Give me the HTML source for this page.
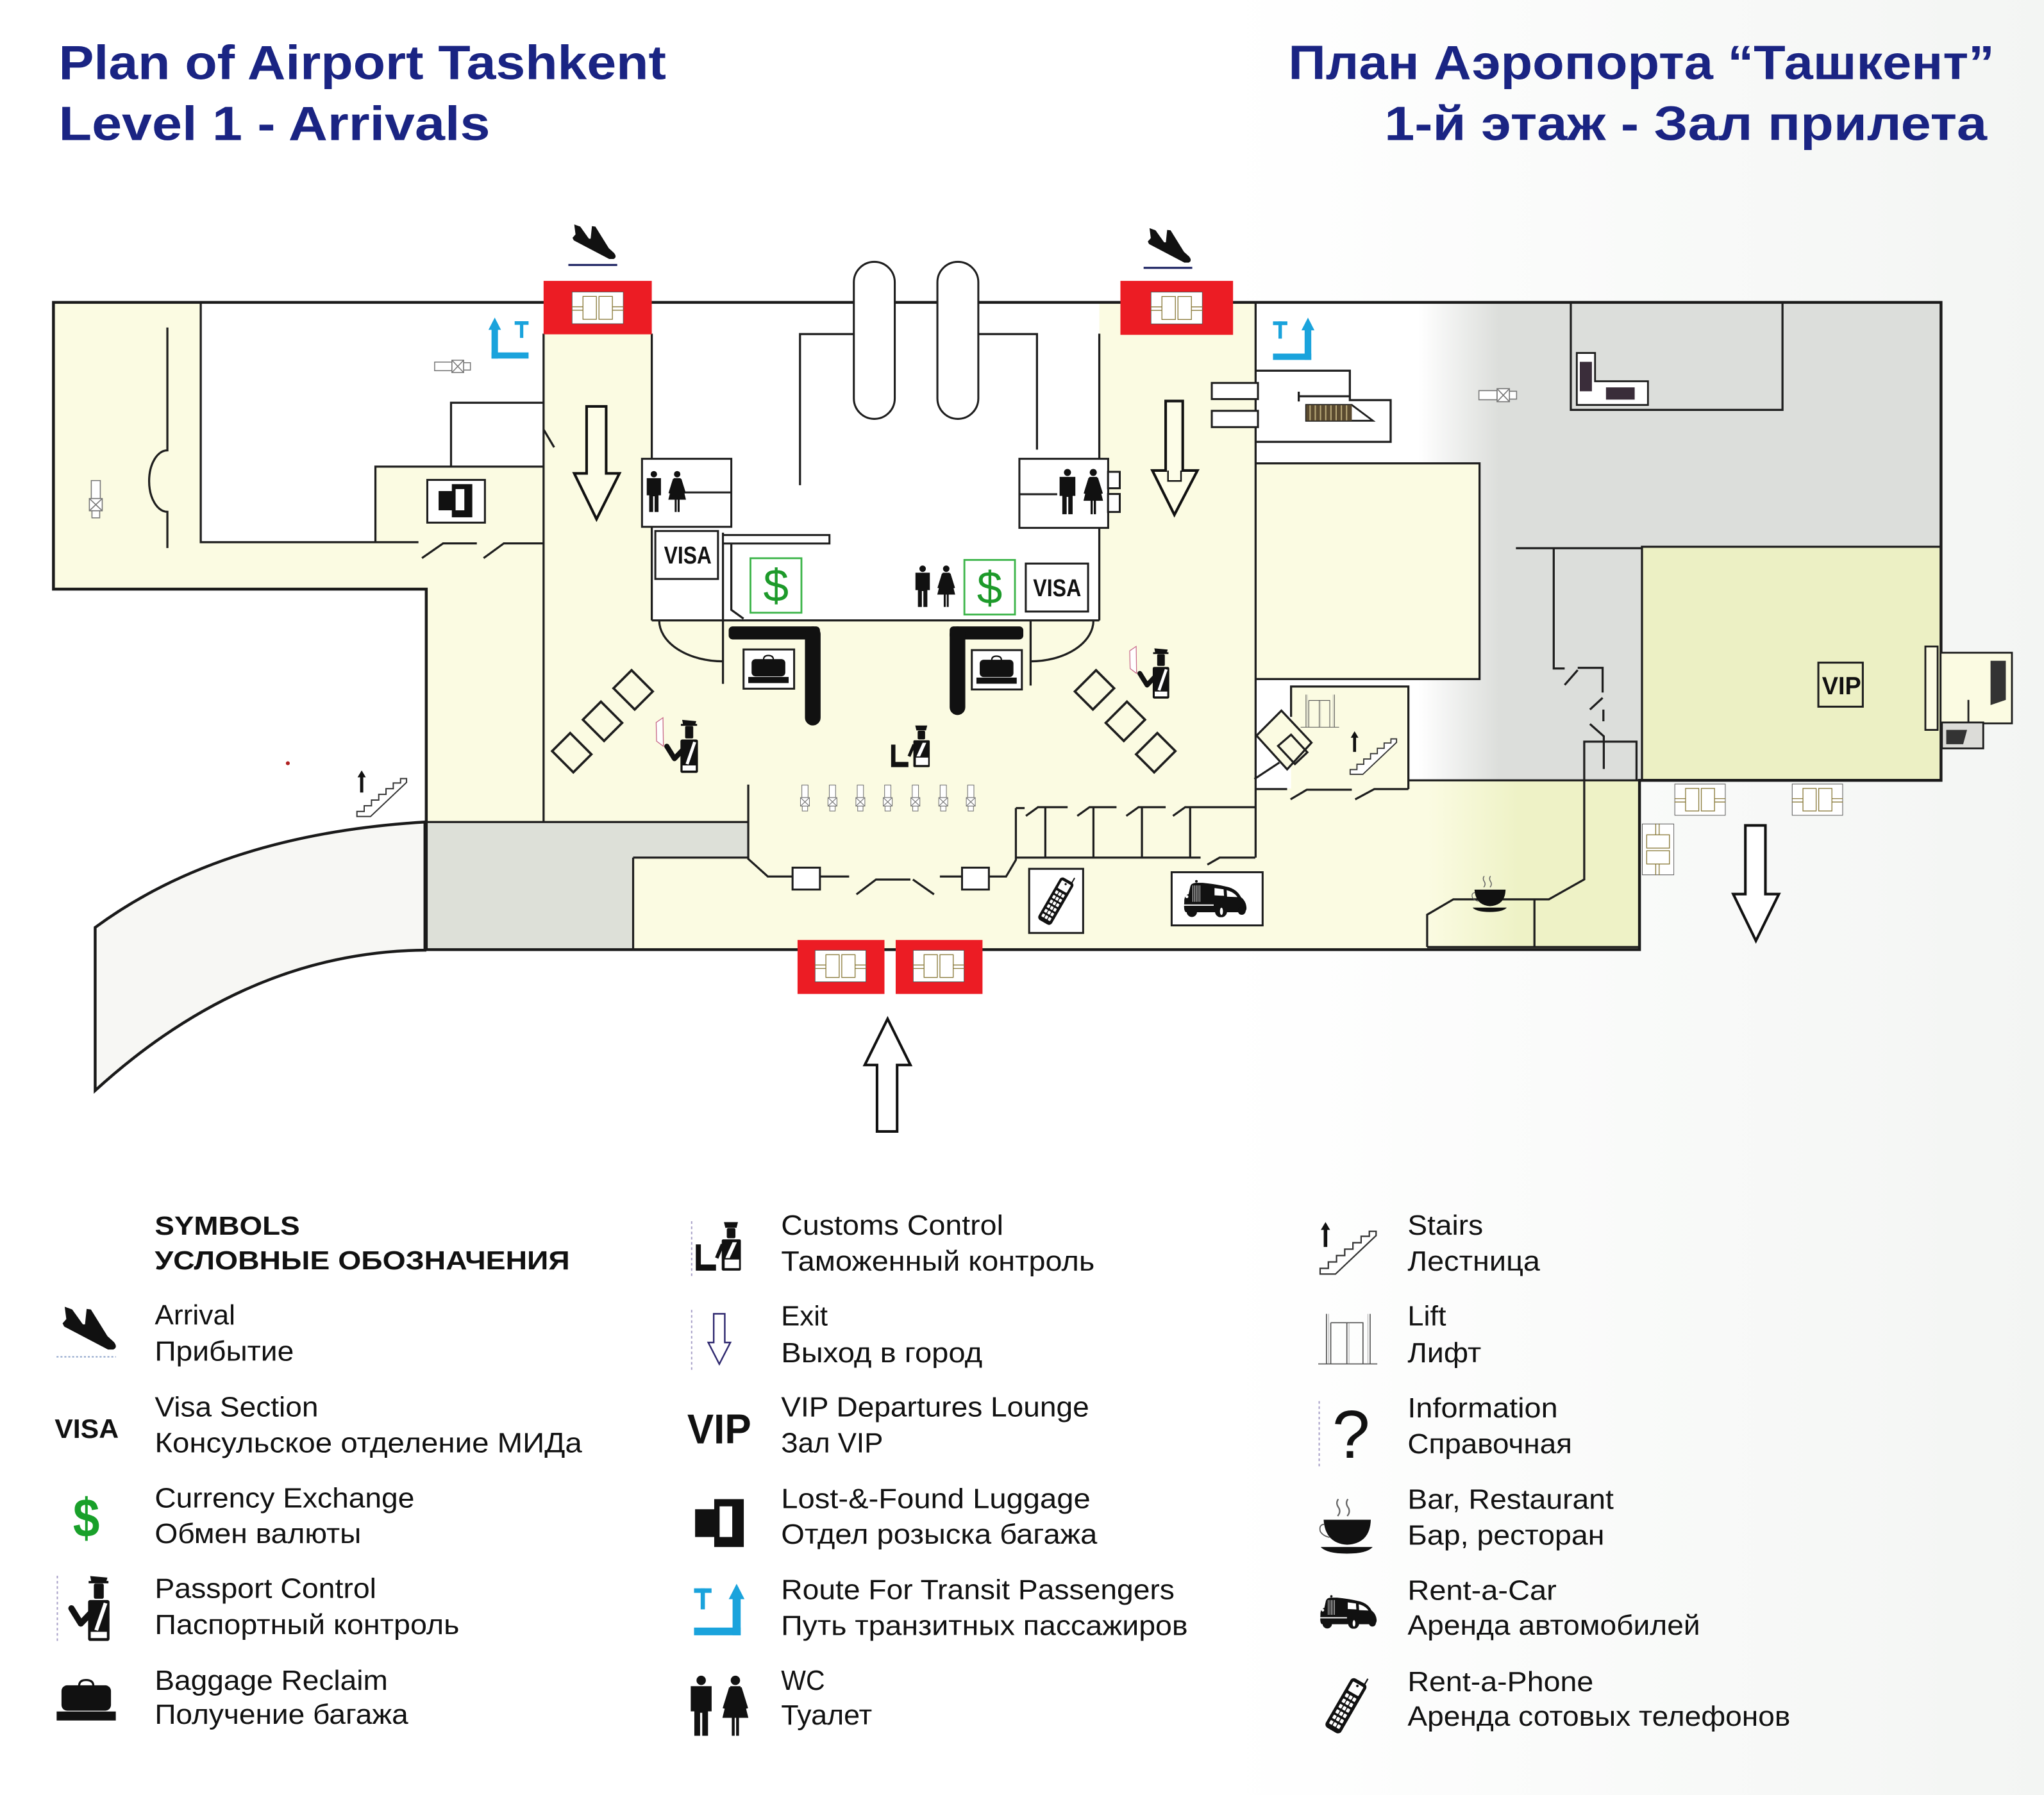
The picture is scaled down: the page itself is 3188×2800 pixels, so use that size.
<!DOCTYPE html>
<html><head><meta charset="utf-8"><title>Plan of Airport Tashkent - Level 1 Arrivals</title>
<style>
html,body{margin:0;padding:0;background:#fff;overflow:hidden;}
svg{display:block;}
text{font-family:"Liberation Sans","DejaVu Sans",sans-serif;}
</style></head><body>
<svg xmlns="http://www.w3.org/2000/svg" width="3188" height="2800" viewBox="0 0 1568 1377.2" preserveAspectRatio="none">
<defs>
  <linearGradient id="grayGrad" gradientUnits="userSpaceOnUse" x1="1088" y1="0" x2="1150" y2="0">
    <stop offset="0" stop-color="#ffffff"/><stop offset="1" stop-color="#dcdedb"/>
  </linearGradient>
  <linearGradient id="greenGrad" gradientUnits="userSpaceOnUse" x1="1095" y1="0" x2="1165" y2="0">
    <stop offset="0" stop-color="#fbfbe2"/><stop offset="1" stop-color="#eef2c6"/>
  </linearGradient>
  <linearGradient id="pageGrad" x1="0" y1="0" x2="1" y2="0">
    <stop offset="0" stop-color="#ffffff"/><stop offset="0.6" stop-color="#ffffff"/><stop offset="1" stop-color="#f3f5f3"/>
  </linearGradient>

  <symbol id="plane" viewBox="0 0 100 80" overflow="visible">
    <path fill="#111" d="M4,0 L18,5 L38,33 L42,33 L45,4 L53,5 L84,55 L96,66 Q104,76 95,80 L85,80 L3,37 L0,31 L7,23 Z"/>
  </symbol>

  <symbol id="door" viewBox="0 0 240 150">
    <rect x="1.5" y="1.5" width="237" height="147" fill="#fff" stroke="#555" stroke-width="3"/>
    <rect x="52" y="22" width="62" height="106" fill="none" stroke="#8a7a3a" stroke-width="4"/>
    <rect x="126" y="22" width="62" height="106" fill="none" stroke="#8a7a3a" stroke-width="4"/>
    <path d="M0,70 H52 M0,86 H52 M188,70 H240 M188,86 H240" stroke="#8a7a3a" stroke-width="4"/>
  </symbol>

  <symbol id="person" viewBox="0 0 200 265" overflow="visible">
    <g fill="#111">
      <path d="M126,16 L192,22 L188,36 L130,36 Z"/>
      <rect x="120" y="35" width="76" height="9"/>
      <rect x="140" y="45" width="38" height="58" rx="6"/>
      <rect x="118" y="108" width="82" height="157" rx="8"/>
    </g>
    <path d="M126,160 L90,198 L54,140" fill="none" stroke="#111" stroke-width="24" stroke-linecap="round" stroke-linejoin="round"/>
    <path d="M142,222 L178,118 L192,122 L156,226 Z" fill="#fff"/>
    <rect x="128" y="230" width="62" height="24" fill="#fff"/>
  </symbol>
  <symbol id="doc" viewBox="0 0 200 265">
    <path d="M4,28 L36,6 L38,140 L6,116 Z" fill="#fff" stroke="#c86a8a" stroke-width="4"/>
  </symbol>

  <symbol id="customs" viewBox="0 0 125 135">
    <g fill="#111">
      <path d="M78,0 L117,0 L113,16 L82,16 Z"/>
      <rect x="86" y="17" width="24" height="28" rx="4"/>
      <rect x="72" y="48" width="53" height="87" rx="4"/>
      <path d="M0,62 L14,62 L14,118 L56,118 L56,135 L0,135 Z"/>
    </g>
    <path d="M74,62 L58,100" stroke="#111" stroke-width="10"/>
    <path d="M82,100 L102,56 L114,56 L94,100 Z" fill="#fff"/>
    <rect x="80" y="104" width="40" height="24" fill="#fff"/>
  </symbol>

  <symbol id="wc" viewBox="0 0 170 168">
    <g fill="#111">
      <circle cx="35" cy="14" r="13"/>
      <path d="M6,30 L64,30 L64,100 L54,100 L54,168 L38,168 L38,104 L32,104 L32,168 L16,168 L16,100 L6,100 Z"/>
      <circle cx="130" cy="14" r="13"/>
      <path d="M116,30 L144,30 L166,118 L94,118 Z"/>
      <rect x="120" y="116" width="8" height="52"/>
      <rect x="132" y="116" width="8" height="52"/>
    </g>
    <path d="M116,34 L98,92 M144,34 L162,92" stroke="#111" stroke-width="7"/>
  </symbol>

  <symbol id="bag" viewBox="0 0 145 105">
    <g fill="#111">
      <rect x="12" y="16" width="121" height="62" rx="14"/>
      <rect x="0" y="80" width="145" height="22"/>
    </g>
    <path d="M55,18 Q55,3 72,3 Q90,3 90,18" fill="none" stroke="#111" stroke-width="5"/>
  </symbol>

  <symbol id="lf" viewBox="0 0 135 133">
    <rect x="53" y="0" width="82" height="133" fill="#111"/>
    <rect x="68" y="20" width="35" height="85" fill="#fff"/>
    <rect x="0" y="28" width="58" height="77" fill="#111"/>
  </symbol>

  <symbol id="transit" viewBox="0 0 145 150">
    <g fill="#1aa3dc">
      <rect x="0" y="13" width="50" height="13"/>
      <rect x="19" y="13" width="12" height="60"/>
      <rect x="0" y="125" width="133" height="22"/>
      <rect x="110" y="38" width="23" height="109"/>
      <path d="M99,44 L121.5,0 L144,44 Z"/>
    </g>
  </symbol>

  <symbol id="stairs" viewBox="0 0 165 150">
    <path d="M20,0 L33,22 L25,22 L25,70 L15,70 L15,22 L7,22 Z" fill="#111"/>
    <path d="M5,146 V130 H28 V112 H51 V94 H74 V76 H97 V58 H120 V40 H143 V26 H162 V38 L48,146 Z" fill="#fff" stroke="#333" stroke-width="4"/>
  </symbol>

  <symbol id="lift" viewBox="0 0 165 142">
    <path d="M23,0 V140 M145,0 V140 M35,25 H125 V140 M35,25 V140 M80,25 V140 M0,140 H165" fill="none" stroke="#555" stroke-width="3"/>
    <path d="M29,0 V140 M139,0 V140 M86,25 V140" fill="none" stroke="#999" stroke-width="1.5"/>
  </symbol>

  <symbol id="cup" viewBox="0 0 145 150">
    <path d="M52,2 Q44,12 52,24 Q60,36 50,48 M78,2 Q70,12 78,24 Q86,36 76,48" fill="none" stroke="#666" stroke-width="4"/>
    <path d="M12,58 L140,58 Q138,122 76,126 Q16,122 12,58 Z" fill="#111"/>
    <path d="M14,70 Q-2,72 3,90 Q10,102 28,106" fill="none" stroke="#555" stroke-width="3"/>
    <path d="M4,132 L145,132 Q130,150 75,150 Q20,150 4,132 Z" fill="#111"/>
  </symbol>

  <symbol id="car" viewBox="0 0 300 175">
    <g fill="#111">
      <circle cx="66" cy="9" r="6"/>
      <path d="M10,105 Q8,75 30,68 L38,32 Q42,18 62,16 L95,16 Q160,22 215,36 Q255,48 272,82 Q296,100 298,132 Q298,150 282,152 L18,152 Q6,148 10,105 Z"/>
    </g>
    <path d="M50,28 V104 M58,28 V104 M66,28 V104 M74,28 V104 M82,28 V104" stroke="#fff" stroke-width="2.5"/>
    <path d="M150,40 L192,46 L194,76 L150,74 Z M206,50 Q240,58 256,82 L208,80 Z" fill="#fff"/>
    <rect x="6" y="116" width="140" height="6" fill="#fff"/>
    <circle cx="22" cy="80" r="7" fill="#fff"/>
    <g fill="#111"><circle cx="45" cy="150" r="24"/><circle cx="180" cy="148" r="28"/><circle cx="276" cy="146" r="18"/></g>
    <ellipse cx="182" cy="148" rx="7" ry="17" fill="#fff"/>
  </symbol>

  <symbol id="phone" viewBox="0 0 200 245" overflow="visible">
    <g transform="rotate(30 100 122)">
      <line x1="122" y1="12" x2="122" y2="-16" stroke="#111" stroke-width="6"/>
      <rect x="64" y="8" width="72" height="228" rx="16" fill="#111"/>
      <rect x="76" y="22" width="48" height="42" rx="4" fill="#fff"/>
      <circle cx="100" cy="30" r="5" fill="#111"/>
      <g fill="#fff">
        <rect x="76" y="76" width="13" height="16" rx="3"/><rect x="93" y="76" width="13" height="16" rx="3"/><rect x="110" y="76" width="13" height="16" rx="3"/>
        <rect x="76" y="101" width="13" height="16" rx="3"/><rect x="93" y="101" width="13" height="16" rx="3"/><rect x="110" y="101" width="13" height="16" rx="3"/>
        <rect x="76" y="126" width="13" height="16" rx="3"/><rect x="93" y="126" width="13" height="16" rx="3"/><rect x="110" y="126" width="13" height="16" rx="3"/>
        <rect x="76" y="151" width="13" height="16" rx="3"/><rect x="93" y="151" width="13" height="16" rx="3"/><rect x="110" y="151" width="13" height="16" rx="3"/>
        <rect x="76" y="176" width="13" height="16" rx="3"/><rect x="93" y="176" width="13" height="16" rx="3"/><rect x="110" y="176" width="13" height="16" rx="3"/>
        <rect x="76" y="201" width="13" height="16" rx="3"/><rect x="93" y="201" width="13" height="16" rx="3"/><rect x="110" y="201" width="13" height="16" rx="3"/>
      </g>
    </g>
  </symbol>

  <symbol id="cart" viewBox="0 0 60 22">
    <g fill="#fff" stroke="#777" stroke-width="1.6">
      <rect x="1" y="4" width="28" height="14"/><rect x="29" y="1" width="19" height="20"/><rect x="48" y="5" width="11" height="12"/>
    </g>
    <path d="M29,1 L48,21 M48,1 L29,21" stroke="#777" stroke-width="1.6"/>
  </symbol>
  <symbol id="cartv" viewBox="0 0 22 60">
    <g fill="#fff" stroke="#777" stroke-width="1.6">
      <rect x="4" y="1" width="14" height="28"/><rect x="1" y="29" width="20" height="19"/><rect x="5" y="48" width="12" height="11"/>
    </g>
    <path d="M1,29 L21,48 M21,29 L1,48" stroke="#777" stroke-width="1.6"/>
  </symbol>
</defs>

<!-- page background -->
<rect x="0" y="0" width="1568" height="1377.2" fill="url(#pageGrad)"/>

<!-- ===== TITLES ===== -->
<g fill="#1a2483" font-weight="bold" font-size="37">
  <text x="45" y="60.7" textLength="466" lengthAdjust="spacingAndGlyphs">Plan of Airport Tashkent</text>
  <text x="45" y="107.4" textLength="331" lengthAdjust="spacingAndGlyphs">Level 1 - Arrivals</text>
  <text x="988.3" y="60.7" textLength="541.7" lengthAdjust="spacingAndGlyphs">План Аэропорта “Ташкент”</text>
  <text x="1062" y="107.4" textLength="462.3" lengthAdjust="spacingAndGlyphs">1-й этаж - Зал прилета</text>
</g>

<!-- ===== FLOOR PLAN FILLS ===== -->
<path d="M326,630.7 Q170,640 73,711.6 L73,836.7 Q190,730 326,729 Z" fill="#f7f7f4" stroke="#1a1a1a" stroke-width="2.2"/>
<path d="M41,232 L1489,232 L1489,598.7 L1257.7,598.7 L1257.7,728.6 L327,728.6 L327,452 L41,452 Z" fill="#fbfbe2"/>
<path d="M154,232 L417,232 L417,358 L288,358 L288,416 L154,416 Z" fill="#fff"/>
<rect x="500" y="232" width="343.3" height="244" fill="#fff"/>
<path d="M963.2,232 L1489,232 L1489,419.5 L1259.6,419.5 L1259.6,598.7 L1079.9,598.7 L1079.9,605 L963.2,605 L963.2,521 L1135,521 L1135,355.5 L963.2,355.5 Z" fill="url(#grayGrad)"/>
<rect x="1259.6" y="419.5" width="229.4" height="179.2" fill="#ecf0c4"/>
<path d="M963.2,605 L1079.9,605 L1079.9,598.7 L1257.7,598.7 L1257.7,728.6 L963.2,728.6 Z" fill="url(#greenGrad)"/>
<path d="M327,630.7 L574,630.7 L574,658 L485.7,658 L485.7,728.6 L327,728.6 Z" fill="#dde0d8"/>
<!-- lift/stairs box cream -->
<rect x="990.4" y="526.7" width="90" height="78.7" fill="#fbfbe2"/>

<!-- ===== WALLS / LINES ===== -->
<path d="M41,232 L1489,232 L1489,598.7 L1257.7,598.7 L1257.7,728.6 L327,728.6 L327,452 L41,452 Z" fill="none" stroke="#1a1a1a" stroke-width="2.2"/>
<g fill="none" stroke="#1e1e1e" stroke-width="1.6">
  <path d="M154,232 V416 H321 M323.7,428.2 L339.9,416.9 H365.8 M371,428.2 L386.5,416.9 H417"/>
  <path d="M128.4,251.3 V345.5 A14,23.6 0 0 0 128.4,392.7 V420.5"/>
  <path d="M417,309 H346 V358 M288,416 V358 H417"/>
  <path d="M417,256 V630.7 M417,329.5 L425.1,343.2"/>
  <path d="M500,256 V476"/>
  <path d="M327,630.7 H574"/>
  <path d="M574,602 V659 L589,672.5 H608 M629,672.5 H651.4 M657,686.2 L672,674.8 H698.4 M700.3,674.8 L716.5,686.2 M721,672.5 H738 M758.6,672.5 H771.8 L779.3,659.8 V620"/>
  <path d="M779.3,620 H786 M787,626 L796.3,619.3 H819 M826.4,626 L835.8,619.3 H856.5 M864,626 L873.4,619.3 H894.2 M899.8,626 L909.2,619.3 H963"/>
  <path d="M801.9,619.3 V658 M838.8,619.3 V658 M876,619.3 V658 M913,619.3 V658"/>
  <path d="M779.3,658 H921 M926.2,663.4 L935.6,658 H963"/>
  <path d="M485.7,658 H574 M485.7,658 V728.6"/>
  <path d="M500,476 H843.3"/>
  <path d="M672,256.3 H613.7 V372.3 M736.8,256.3 H795.5 V345"/>
  <path d="M505.7,476 A48.9,31.4 0 0 0 554.6,507.4 M838.8,476 A48.2,31.4 0 0 1 790.6,507.4"/>
  <path d="M554.6,408.7 V524.7 M790.6,476 V526"/>
  <path d="M561,417 V467.9 L570.4,474.7"/>
  <path d="M843.3,256 V476"/>
  <path d="M963.2,232 V658"/>
  <path d="M963.2,284.4 H1035.5 V307 H1066.8 V339 H963.2"/>
  <path d="M996.3,300.5 V308 M996.3,304 H1035"/>
  <path d="M963.2,355.5 H1135 V521 H963.2"/>
  <path d="M1205,232 V314.5 H1367.4 V232"/>
  <!-- gray area lines -->
  <path d="M1162.9,420.6 H1259.6 M1191.9,420.6 V512.9 H1200.3 M1200.3,525.5 L1210.3,514.1 M1210.3,512.4 H1229.4 V531.3 M1219.7,544.4 L1229.4,535.4 M1230,544.4 V553.4 M1219.7,555.5 L1230.3,564.9 V590"/>
  <path d="M1255.4,598.7 V569 H1215.3 V674.7 L1188.2,690 H1114.9 L1094.8,701.8 V726.6 M1177.1,690 V726.6 M1094.8,726.6 H1257.7"/>
  <path d="M1259.6,598.7 V419.5 H1489"/>
  <path d="M1079.9,598.7 H1257.7"/>
  <!-- lift / stair box -->
  <path d="M990.4,550 V526.7 H1080.4 V605.4"/>
  <path d="M963.2,605.4 H987.4 M990,613.3 L1002.5,605.9 H1037 M1039.6,613.3 L1054.3,605.4 H1080.4"/>
  <path d="M962.3,597.7 L981.4,585.1"/>
  <path d="M963.9,564.4 L983,545.2 L1006.1,569.8 L987.4,590.3 Z" fill="#fbfbe2"/>
  <path d="M980.4,572.3 L990.4,563.7 L1002.9,577.2 L993.4,586.2 Z"/>
  <!-- diamonds -->
  <g stroke-width="1.8">
    <rect x="-11.5" y="-9.8" width="23" height="19.6" transform="translate(438.6,577.5) rotate(45)"/>
    <rect x="-11.5" y="-9.8" width="23" height="19.6" transform="translate(462.2,553.4) rotate(45)"/>
    <rect x="-11.5" y="-9.8" width="23" height="19.6" transform="translate(485.7,529.3) rotate(45)"/>
    <rect x="-11.5" y="-9.8" width="23" height="19.6" transform="translate(839.6,529.3) rotate(-45)"/>
    <rect x="-11.5" y="-9.8" width="23" height="19.6" transform="translate(863.3,553.4) rotate(-45)"/>
    <rect x="-11.5" y="-9.8" width="23" height="19.6" transform="translate(886.6,577.5) rotate(-45)"/>
  </g>
</g>

<!-- ovals -->
<g fill="#fff" stroke="#1e1e1e" stroke-width="1.5">
  <rect x="655" y="200.9" width="31.4" height="120.5" rx="15.7"/>
  <rect x="719.1" y="200.9" width="31.4" height="120.5" rx="15.7"/>
</g>

<!-- boxes -->
<g fill="#fff" stroke="#1e1e1e" stroke-width="1.5">
  <rect x="929.6" y="293.8" width="35.4" height="12.4"/>
  <rect x="929.6" y="315.2" width="35.4" height="12.5"/>
  <rect x="327.8" y="368.2" width="44.2" height="32.8"/>
  <rect x="492.5" y="352" width="68.5" height="52.2"/>
  <rect x="782" y="352" width="68.1" height="53"/>
  <rect x="850" y="362" width="9" height="12.6"/>
  <rect x="850" y="379" width="9" height="13.8"/>
  <rect x="502.7" y="407.4" width="48.1" height="36.8"/>
  <rect x="786.9" y="432.4" width="47.8" height="36.8"/>
  <rect x="554.6" y="410.5" width="81.7" height="6.5"/>
  <rect x="570.4" y="498.3" width="38.8" height="30.1"/>
  <rect x="745.5" y="498.8" width="38.4" height="30.2"/>
  <rect x="789.5" y="666.6" width="41.4" height="49.2"/>
  <rect x="898.8" y="669.2" width="69.8" height="40.8"/>
  <rect x="608" y="665.7" width="21" height="16.8"/>
  <rect x="738" y="665.7" width="20.6" height="16.8"/>
  <rect x="1394.9" y="508.4" width="34.1" height="33.8" fill="none"/>
</g>
<path d="M521.5,377.8 H561 M782,379.2 H811" stroke="#1e1e1e" stroke-width="1.5"/>
<g fill="#fff" stroke="#3db54a" stroke-width="1.4">
  <rect x="575.7" y="428.3" width="39.1" height="41.8"/>
  <rect x="739.8" y="429.6" width="38.8" height="41.9"/>
</g>
<g fill="#1d9a2a" font-size="35" text-anchor="middle">
  <text x="595.3" y="461.4">$</text>
  <text x="759.2" y="463">$</text>
</g>
<g fill="#111" font-weight="bold" font-size="18.5">
  <text x="509.4" y="432.4" textLength="36.5" lengthAdjust="spacingAndGlyphs">VISA</text>
  <text x="792.5" y="457.4" textLength="36.9" lengthAdjust="spacingAndGlyphs">VISA</text>
  <text x="1397.7" y="532.8" font-size="19" textLength="30" lengthAdjust="spacingAndGlyphs">VIP</text>
</g>

<!-- baggage L bars -->
<g fill="#111">
  <rect x="559" y="480.6" width="70" height="10" rx="3"/>
  <rect x="617.5" y="480.6" width="12" height="76" rx="6"/>
  <rect x="728.5" y="480.6" width="56.5" height="10" rx="3"/>
  <rect x="728.5" y="480.6" width="12" height="68" rx="6"/>
</g>

<!-- top-right L counter -->
<path d="M1209.6,270.8 H1223.6 V292.5 H1264.2 V310.7 H1209.6 Z" fill="#fff" stroke="#1e1e1e" stroke-width="1.4"/>
<rect x="1211.9" y="277.6" width="9.3" height="22.6" fill="#3a2d3a"/>
<rect x="1232" y="297.2" width="22" height="9.4" fill="#3a2d3a"/>

<!-- escalator -->
<path d="M1002,310.7 H1037 L1053.2,322.8 H1002 Z" fill="#fff" stroke="#1e1e1e" stroke-width="1.4"/>
<rect x="1002" y="310.7" width="35" height="12.1" fill="#5a4a30"/>
<path d="M1005,311 V322.5 M1009,311 V322.5 M1013,311 V322.5 M1017,311 V322.5 M1021,311 V322.5 M1025,311 V322.5 M1029,311 V322.5 M1033,311 V322.5" stroke="#b8a878" stroke-width="1"/>

<!-- right protrusion -->
<g stroke="#1e1e1e" stroke-width="1.4">
  <rect x="1477" y="496" width="9.4" height="64" fill="#fbfbe2"/>
  <rect x="1488.7" y="500.8" width="54.7" height="54.2" fill="#fbfbe2"/>
  <rect x="1489.7" y="554.3" width="31.7" height="19.9" fill="#dcdcd8"/>
  <path d="M1510,537 V554" fill="none"/>
</g>
<path d="M1527,507 H1538.7 V537 L1527,541 Z" fill="#333"/>
<path d="M1493,560 H1509 L1506,571 H1493 Z" fill="#333"/>

<!-- ===== ICONS ON PLAN ===== -->
<use href="#plane" x="439" y="172.2" width="33.5" height="26.5"/>
<path d="M436,203.3 H473.5" stroke="#1a2060" stroke-width="1.5"/>
<use href="#plane" x="880.5" y="175" width="33" height="26.5"/>
<path d="M877.3,205.5 H914.6" stroke="#1a2060" stroke-width="1.5"/>

<g transform="translate(780.0,0) scale(-1,1)">
  <use href="#transit" x="374.5" y="243.1" width="31" height="33.2"/>
</g>
<use href="#transit" x="976.2" y="243.7" width="32.7" height="33.1"/>

<use href="#cart" x="332" y="275.9" width="30.3" height="10.4"/>
<use href="#cart" x="1134" y="297.6" width="29.9" height="11.2"/>
<use href="#cartv" x="67.6" y="368.2" width="11.8" height="29.6"/>
<g>
  <use href="#cartv" x="613.2" y="602" width="8.6" height="20.6"/>
  <use href="#cartv" x="634.3" y="602" width="8.6" height="20.6"/>
  <use href="#cartv" x="655.7" y="602" width="8.6" height="20.6"/>
  <use href="#cartv" x="676.7" y="602" width="8.6" height="20.6"/>
  <use href="#cartv" x="697.9" y="602" width="8.6" height="20.6"/>
  <use href="#cartv" x="719.3" y="602" width="8.6" height="20.6"/>
  <use href="#cartv" x="740.4" y="602" width="8.6" height="20.6"/>
</g>

<use href="#lf" x="336.4" y="371.4" width="26" height="25.5"/>
<use href="#wc" x="495" y="361" width="32" height="32"/>
<use href="#wc" x="811.3" y="359.6" width="36" height="35"/>
<use href="#wc" x="700.3" y="433.7" width="34" height="32"/>
<use href="#bag" x="574" y="502" width="31" height="23"/>
<use href="#bag" x="749" y="502.5" width="31" height="23"/>

<use href="#doc" x="502.7" y="549.7" width="32.7" height="43.3"/>
<use href="#person" x="502.7" y="549.7" width="32.7" height="43.3"/>
<use href="#doc" x="866" y="495" width="31" height="41"/>
<use href="#person" x="866" y="495" width="31" height="41"/>
<use href="#customs" x="683.4" y="556.6" width="30" height="32"/>

<use href="#stairs" x="272.6" y="591" width="40" height="36.5"/>
<circle cx="220.8" cy="585.6" r="1.5" fill="#b02020"/>
<use href="#stairs" x="1034.6" y="560.5" width="37.4" height="35"/>
<use href="#lift" x="997.5" y="532.9" width="30" height="25.4"/>
<use href="#phone" x="793.5" y="671.4" width="32.9" height="40.2"/>
<use href="#car" x="906.7" y="674.7" width="50" height="29"/>
<use href="#cup" x="1128.9" y="671.5" width="27" height="28.5"/>

<use href="#door" x="1284.3" y="601.3" width="39.7" height="24.5"/>
<use href="#door" x="1374.4" y="601.3" width="39.6" height="24.5"/>
<g transform="translate(1284.3,631.4) rotate(90)">
  <use href="#door" x="0" y="0" width="40.6" height="24.7"/>
</g>

<!-- red entrance boxes -->
<g fill="#ec1c24">
  <rect x="417" y="215.5" width="83" height="41"/>
  <rect x="859.5" y="215.5" width="86.4" height="41.4"/>
  <rect x="611.8" y="721.2" width="66.7" height="41.4"/>
  <rect x="687.1" y="721.2" width="66.6" height="41.4"/>
</g>
<use href="#door" x="438.6" y="223.7" width="39.8" height="25"/>
<use href="#door" x="882.7" y="223.3" width="39.9" height="26"/>
<use href="#door" x="625" y="728" width="39.5" height="26.4"/>
<use href="#door" x="700.3" y="728" width="39.5" height="26.4"/>

<!-- arrows -->
<g stroke="#111" stroke-width="2" stroke-linejoin="miter">
  <path d="M450,311.8 H465 V363.2 H475.2 L457.6,398.3 L440.5,363.2 H450 Z" fill="#fdfde8"/>
  <path d="M894.2,307.7 H907.3 V361 H918.6 L900.9,395 L884,361 H894.2 Z" fill="#fdfde8"/>
  <path d="M1338.9,633.3 H1354.3 V686 H1364.6 L1347,721.8 L1329.6,686 H1338.9 Z" fill="#fff"/>
  <path d="M672.8,868.1 V817.1 H663.4 L680.9,781.7 L698.4,817.1 H688.2 V868.1 Z" fill="#fff"/>
</g>
<path d="M896,361 V369 H906 V361" fill="none" stroke="#111" stroke-width="1.2"/>

<!-- ===== LEGEND ===== -->
<use href="#plane" x="48" y="1002.5" width="41" height="33"/>
<path d="M43.4,1041 H88.9" stroke="#8aa0c8" stroke-width="1" stroke-dasharray="1.5,1.5"/>
<text x="41.9" y="1103.2" font-size="20.5" font-weight="bold" fill="#111" textLength="49.2" lengthAdjust="spacingAndGlyphs">VISA</text>
<text x="56" y="1179" font-size="42" font-weight="bold" fill="#19a02a" textLength="20.4" lengthAdjust="spacingAndGlyphs">$</text>
<path d="M44,1209 V1259" stroke="#a8a0c8" stroke-width="1" stroke-dasharray="2,2"/>
<use href="#person" x="44" y="1206" width="40" height="53"/>
<use href="#bag" x="43.4" y="1288" width="45.5" height="33"/>

<path d="M530.6,937 V981 M530.6,1005 V1052" stroke="#a8a0c8" stroke-width="1" stroke-dasharray="2,2"/>
<use href="#customs" x="533.4" y="937.6" width="35.3" height="37.3"/>
<path d="M547.5,1008 H556 V1030 H560.3 L551.8,1046.6 L543.3,1030 H547.5 Z" fill="#fff" stroke="#302a70" stroke-width="1.2"/>
<text x="527.2" y="1107.4" font-size="32" font-weight="bold" fill="#111" textLength="49.1" lengthAdjust="spacingAndGlyphs">VIP</text>
<use href="#lf" x="532.9" y="1150.2" width="38" height="36.8"/>
<use href="#transit" x="532.4" y="1215" width="39" height="40.6"/>
<use href="#wc" x="527.7" y="1285.4" width="48" height="46.4"/>

<use href="#stairs" x="1010.6" y="937.6" width="46.6" height="41"/>
<use href="#lift" x="1010.6" y="1008" width="46.6" height="39"/>
<path d="M1012,1075 V1125" stroke="#a8a0c8" stroke-width="1" stroke-dasharray="2,2"/>
<text x="1022" y="1118.6" font-size="52" fill="#111">?</text>
<use href="#cup" x="1012" y="1149.6" width="41" height="42.4"/>
<use href="#car" x="1010.6" y="1223.4" width="46.6" height="26.2"/>
<use href="#phone" x="1013.4" y="1285.4" width="38.2" height="46.9"/>

<g fill="#111" font-size="21.5">
  <text x="118.7" y="947.3" font-size="20" font-weight="bold" textLength="111.3" lengthAdjust="spacingAndGlyphs">SYMBOLS</text>
  <text x="118.7" y="974" font-size="20" font-weight="bold" textLength="318.4" lengthAdjust="spacingAndGlyphs">УСЛОВНЫЕ ОБОЗНАЧЕНИЯ</text>
  <text x="118.7" y="1016.3" textLength="61.8" lengthAdjust="spacingAndGlyphs">Arrival</text>
  <text x="118.7" y="1043.9" textLength="106.7" lengthAdjust="spacingAndGlyphs">Прибытие</text>
  <text x="118.7" y="1086.7" textLength="125.5" lengthAdjust="spacingAndGlyphs">Visa Section</text>
  <text x="118.7" y="1114.3" textLength="327.8" lengthAdjust="spacingAndGlyphs">Консульское отделение МИДа</text>
  <text x="118.7" y="1156.5" textLength="199.2" lengthAdjust="spacingAndGlyphs">Currency Exchange</text>
  <text x="118.7" y="1184" textLength="158.4" lengthAdjust="spacingAndGlyphs">Обмен валюты</text>
  <text x="118.7" y="1226" textLength="170" lengthAdjust="spacingAndGlyphs">Passport Control</text>
  <text x="118.7" y="1253.7" textLength="233.7" lengthAdjust="spacingAndGlyphs">Паспортный контроль</text>
  <text x="118.7" y="1296.5" textLength="178.8" lengthAdjust="spacingAndGlyphs">Baggage Reclaim</text>
  <text x="118.7" y="1322.7" textLength="194.5" lengthAdjust="spacingAndGlyphs">Получение багажа</text>

  <text x="599.2" y="947.3" textLength="170.5" lengthAdjust="spacingAndGlyphs">Customs Control</text>
  <text x="599.2" y="974.9" textLength="240.5" lengthAdjust="spacingAndGlyphs">Таможенный контроль</text>
  <text x="599.2" y="1016.8" textLength="35.8" lengthAdjust="spacingAndGlyphs">Exit</text>
  <text x="599.2" y="1045.3" textLength="154.4" lengthAdjust="spacingAndGlyphs">Выход в город</text>
  <text x="599.2" y="1086.7" textLength="236.3" lengthAdjust="spacingAndGlyphs">VIP Departures Lounge</text>
  <text x="599.2" y="1114.3" textLength="78.2" lengthAdjust="spacingAndGlyphs">Зал VIP</text>
  <text x="599.2" y="1157" textLength="237.3" lengthAdjust="spacingAndGlyphs">Lost-&amp;-Found Luggage</text>
  <text x="599.2" y="1184.5" textLength="242.5" lengthAdjust="spacingAndGlyphs">Отдел розыска багажа</text>
  <text x="599.2" y="1227" textLength="301.8" lengthAdjust="spacingAndGlyphs">Route For Transit Passengers</text>
  <text x="599.2" y="1254.5" textLength="312" lengthAdjust="spacingAndGlyphs">Путь транзитных пассажиров</text>
  <text x="599.2" y="1296.5" textLength="33.6" lengthAdjust="spacingAndGlyphs">WC</text>
  <text x="599.2" y="1323" textLength="69.8" lengthAdjust="spacingAndGlyphs">Туалет</text>

  <text x="1079.8" y="947.3" textLength="57.9" lengthAdjust="spacingAndGlyphs">Stairs</text>
  <text x="1079.8" y="974.9" textLength="101.6" lengthAdjust="spacingAndGlyphs">Лестница</text>
  <text x="1079.8" y="1016.8" textLength="29.6" lengthAdjust="spacingAndGlyphs">Lift</text>
  <text x="1079.8" y="1045.3" textLength="56.5" lengthAdjust="spacingAndGlyphs">Лифт</text>
  <text x="1079.8" y="1087.5" textLength="115.2" lengthAdjust="spacingAndGlyphs">Information</text>
  <text x="1079.8" y="1115" textLength="126.2" lengthAdjust="spacingAndGlyphs">Справочная</text>
  <text x="1079.8" y="1157.6" textLength="158.1" lengthAdjust="spacingAndGlyphs">Bar, Restaurant</text>
  <text x="1079.8" y="1185.2" textLength="151" lengthAdjust="spacingAndGlyphs">Бар, ресторан</text>
  <text x="1079.8" y="1227.4" textLength="114.3" lengthAdjust="spacingAndGlyphs">Rent-a-Car</text>
  <text x="1079.8" y="1254.3" textLength="224.4" lengthAdjust="spacingAndGlyphs">Аренда автомобилей</text>
  <text x="1079.8" y="1297.6" textLength="142.6" lengthAdjust="spacingAndGlyphs">Rent-a-Phone</text>
  <text x="1079.8" y="1324.1" textLength="293.6" lengthAdjust="spacingAndGlyphs">Аренда сотовых телефонов</text>
</g>
</svg>
</body></html>
